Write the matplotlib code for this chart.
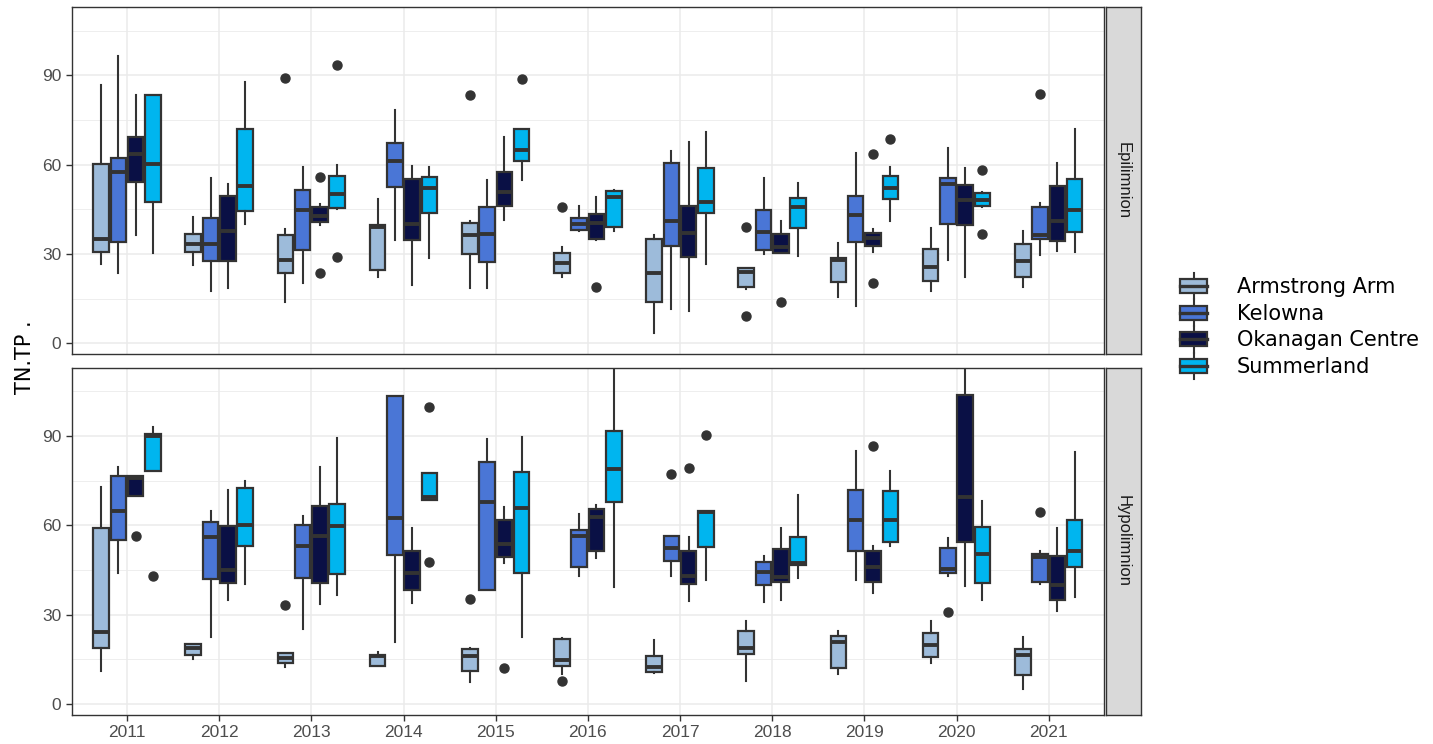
import matplotlib
matplotlib.use("Agg")
import matplotlib.pyplot as plt
from matplotlib.legend_handler import HandlerBase
from matplotlib.lines import Line2D
from matplotlib.patches import Rectangle, Patch
from matplotlib.ticker import FixedLocator

# ---- data ----
years = [2011, 2012, 2013, 2014, 2015, 2016, 2017, 2018, 2019, 2020, 2021]
sites = ["Armstrong Arm", "Kelowna", "Okanagan Centre", "Summerland"]
site_colors = ["#9DBBDA", "#4A76D6", "#0A1045", "#00B5EF"]
layers = ["Epilimnion", "Hypolimnion"]

# each row = one year, columns = sites in the order above
epi_whislo = [[26.5, 23.5, 36.2, 30.2], [26.3, 17.4, 18.5, 40.0], [13.7, 20.4, 39.7, 45.1],
              [22.4, 34.7, 19.6, 28.5], [18.5, 18.5, 41.4, 54.9], [22.1, 37.7, 34.7, 37.7],
              [3.6, 11.5, 11.0, 26.5], [18.1, 29.9, 30.2, 29.4], [15.7, 12.5, 30.8, 41.1],
              [17.4, 28.0, 22.1, 45.6], [18.8, 29.7, 31.0, 30.6]]
epi_q1 = [[30.6, 34.1, 54.3, 47.6], [30.6, 27.8, 27.8, 44.4], [23.5, 31.3, 40.6, 45.3],
          [24.6, 52.6, 34.7, 43.9], [29.9, 27.4, 46.2, 61.2], [23.5, 38.1, 35.0, 39.0],
          [13.7, 32.8, 28.9, 43.9], [19.0, 31.3, 30.4, 38.8], [20.5, 34.1, 32.8, 48.5],
          [21.0, 40.0, 39.7, 46.1], [22.1, 34.9, 34.5, 37.3]]
epi_med = [[35.0, 57.6, 63.5, 60.1], [33.2, 33.2, 37.7, 52.8], [28.0, 44.8, 42.8, 50.0],
           [39.2, 61.3, 40.0, 52.3], [36.4, 36.7, 50.9, 64.9], [27.1, 40.1, 40.3, 49.0],
           [23.5, 41.2, 37.2, 47.6], [24.1, 37.3, 32.2, 45.6], [28.0, 43.1, 35.3, 52.3],
           [25.5, 53.5, 48.1, 48.1], [27.6, 36.4, 40.9, 44.8]]
epi_q3 = [[60.1, 62.1, 69.3, 83.4], [36.8, 42.2, 49.3, 71.8], [36.4, 51.4, 45.7, 56.3],
          [39.7, 67.4, 55.2, 56.0], [40.3, 45.7, 57.4, 72.0], [30.2, 42.0, 43.5, 51.2],
          [34.9, 60.6, 46.1, 59.0], [25.2, 44.8, 36.7, 48.7], [28.5, 49.6, 36.9, 56.2],
          [31.6, 55.6, 53.2, 50.4], [33.2, 45.8, 52.8, 55.2]]
epi_whishi = [[86.8, 96.6, 83.4, 83.4], [42.5, 55.6, 53.4, 87.6], [38.4, 59.3, 46.7, 59.9],
              [48.5, 78.4, 59.6, 59.2], [40.9, 54.9, 69.2, 72.0], [32.4, 46.2, 49.0, 51.4],
              [36.4, 64.7, 67.5, 71.0], [25.4, 55.4, 40.9, 53.7], [33.8, 63.8, 38.4, 59.1],
              [38.8, 65.7, 58.8, 50.9], [37.7, 47.0, 60.4, 72.0]]
# (year, site index, value)
epi_outliers = [(2013, 0, 89.0), (2013, 2, 56.0), (2013, 2, 23.5), (2013, 3, 93.5),
                (2013, 3, 28.9), (2015, 0, 83.4), (2015, 3, 88.8), (2016, 0, 45.9),
                (2016, 2, 19.0), (2018, 0, 39.2), (2018, 0, 9.3), (2018, 2, 14.0),
                (2019, 2, 63.6), (2019, 2, 20.4), (2019, 3, 68.7), (2020, 3, 58.2),
                (2020, 3, 36.6), (2021, 1, 83.7)]

hypo_whislo = [[11.1, 43.9, 69.9, 78.2], [15.1, 22.6, 34.9, 40.2], [12.5, 25.1, 33.5, 36.6],
               [12.8, 20.7, 33.8, 68.5], [7.3, 38.1, 47.2, 22.6], [10.0, 42.8, 49.1, 39.4],
               [10.3, 43.0, 34.6, 41.6], [7.8, 34.4, 34.9, 42.2], [10.2, 41.6, 37.1, 53.1],
               [13.9, 42.8, 39.7, 34.9], [5.0, 40.3, 31.2, 36.0]]
hypo_q1 = [[18.9, 55.0, 69.9, 78.2], [16.5, 41.9, 40.7, 53.2], [13.7, 42.4, 40.5, 43.5],
           [12.8, 50.0, 38.3, 68.5], [11.2, 38.3, 49.5, 43.9], [12.9, 46.1, 51.4, 67.7],
           [10.6, 48.0, 40.2, 52.7], [16.9, 40.0, 40.9, 46.7], [12.0, 51.2, 40.9, 54.3],
           [15.7, 44.1, 54.5, 40.5], [9.7, 41.1, 34.9, 45.9]]
hypo_med = [[24.0, 64.9, 75.8, 90.0], [18.7, 55.9, 45.0, 60.1], [15.6, 53.1, 56.5, 59.9],
            [16.2, 62.3, 44.1, 69.6], [16.1, 67.9, 53.7, 65.7], [14.8, 56.5, 62.7, 78.9],
            [12.5, 52.3, 43.1, 64.6], [18.9, 44.4, 42.5, 47.2], [20.9, 61.8, 46.1, 61.8],
            [19.8, 45.2, 69.6, 50.3], [16.5, 49.3, 40.0, 51.2]]
hypo_q3 = [[59.0, 76.6, 76.6, 90.7], [20.0, 61.2, 59.9, 72.4], [17.0, 60.1, 66.6, 67.1],
           [16.5, 103.5, 51.4, 77.4], [18.5, 81.4, 61.8, 77.8], [21.8, 58.4, 65.4, 91.5],
           [16.1, 56.5, 51.2, 64.9], [24.6, 47.6, 52.1, 56.2], [22.8, 71.9, 51.5, 71.6],
           [23.7, 52.3, 103.8, 59.3], [18.4, 50.4, 49.8, 61.8]]
hypo_whishi = [[73.0, 79.7, 76.6, 93.1], [20.0, 64.9, 71.9, 74.7], [17.0, 63.2, 79.4, 89.2],
               [17.6, 103.5, 59.2, 77.4], [18.7, 89.0, 66.3, 89.8], [22.3, 63.8, 66.8, 113.0],
               [21.5, 56.5, 56.0, 64.9], [27.9, 49.8, 59.0, 70.2], [24.5, 85.1, 53.1, 78.2],
               [27.9, 55.6, 113.0, 68.3], [22.6, 51.5, 59.0, 84.7]]
hypo_outliers = [(2011, 2, 56.5), (2011, 3, 43.1), (2013, 0, 33.2), (2014, 3, 99.8),
                 (2014, 3, 47.8), (2015, 0, 35.3), (2015, 2, 12.2), (2016, 0, 7.7),
                 (2017, 1, 77.1), (2017, 2, 79.1), (2017, 3, 90.3), (2019, 2, 86.6),
                 (2020, 1, 31.0), (2021, 1, 64.4)]

EDGE = "#333333"
GRID = "#EBEBEB"


class BoxKey(HandlerBase):
    # ggplot-like boxplot legend key
    def create_artists(self, legend, orig_handle, xdescent, ydescent,
                       width, height, fontsize, trans):
        x0, y0 = -xdescent, -ydescent
        whisk = Line2D([x0 + width / 2] * 2, [y0, y0 + height], color=EDGE, lw=1.5,
                       transform=trans)
        box = Rectangle((x0, y0 + height * 0.24), width, height * 0.52,
                        facecolor=orig_handle.get_facecolor(), edgecolor=EDGE, lw=1.6,
                        transform=trans)
        med = Line2D([x0, x0 + width], [y0 + height / 2] * 2, color=EDGE, lw=2.4,
                     transform=trans)
        return [whisk, box, med]


def draw_panel(ax, whislo, q1, med, q3, whishi, outliers):
    step = 0.75 / len(sites)
    for j, col in enumerate(sites):
        stats = []
        pos = []
        for i, yr in enumerate(years):
            fl = [v for (y, s, v) in outliers if y == yr and s == j]
            stats.append(dict(whislo=whislo[i][j], q1=q1[i][j], med=med[i][j],
                              q3=q3[i][j], whishi=whishi[i][j], fliers=fl))
            pos.append(i + (j - 1.5) * step)
        ax.bxp(stats, positions=pos, widths=step * 0.9, patch_artist=True,
               showcaps=False, manage_ticks=False,
               boxprops=dict(facecolor=site_colors[j], edgecolor=EDGE, linewidth=1.6),
               whiskerprops=dict(color=EDGE, linewidth=1.5),
               medianprops=dict(color=EDGE, linewidth=2.8, solid_capstyle="butt"),
               flierprops=dict(marker="o", markerfacecolor=EDGE, markeredgecolor=EDGE,
                               markersize=6.5, linestyle="none"))

    ax.set_xlim(-0.6, len(years) - 0.4)
    ax.set_ylim(-3.6, 112.8)
    ax.set_yticks([0, 30, 60, 90])
    ax.yaxis.set_minor_locator(FixedLocator([15, 45, 75, 105]))
    ax.set_xticks(range(len(years)))
    ax.set_axisbelow(True)
    ax.grid(which="major", color=GRID, linewidth=1.1)
    ax.grid(which="minor", axis="y", color=GRID, linewidth=0.6)
    ax.tick_params(axis="y", which="minor", length=0)
    ax.tick_params(which="major", color=EDGE, length=4, width=1,
                   labelsize=12.5, labelcolor="#4D4D4D")
    for sp in ax.spines.values():
        sp.set_color(EDGE)
        sp.set_linewidth(1.0)


def main():
    plt.rcParams["font.family"] = ["Liberation Sans", "DejaVu Sans"]
    W, H = 1433, 744
    fig = plt.figure(figsize=(W / 100, H / 100), dpi=100)

    px_left, px_right = 71.7, 1104
    panels = [(7.4, 354.0), (368.0, 714.7)]
    data = [(epi_whislo, epi_q1, epi_med, epi_q3, epi_whishi, epi_outliers),
            (hypo_whislo, hypo_q1, hypo_med, hypo_q3, hypo_whishi, hypo_outliers)]

    for k, (top, bot) in enumerate(panels):
        ax = fig.add_axes([px_left / W, 1 - bot / H, (px_right - px_left) / W, (bot - top) / H])
        draw_panel(ax, *data[k])
        if k == 0:
            ax.tick_params(axis="x", length=0, labelbottom=False)
        else:
            ax.set_xticklabels([str(y) for y in years])

        # facet strip on the right
        sax = fig.add_axes([1106 / W, 1 - bot / H, 35 / W, (bot - top) / H])
        sax.set_facecolor("#D9D9D9")
        sax.set_xticks([])
        sax.set_yticks([])
        for sp in sax.spines.values():
            sp.set_color(EDGE)
            sp.set_linewidth(1.0)
        sax.text(0.5, 0.5, layers[k], rotation=-90, ha="center", va="center",
                 fontsize=12, color="#1A1A1A", transform=sax.transAxes)

    fig.text(25 / W, 1 - 357 / H, "TN.TP .", rotation=90, ha="center", va="center",
             fontsize=15, family="DejaVu Sans")

    handles = [Patch(facecolor=c) for c in site_colors]
    fig.legend(handles, sites, loc="center left", bbox_to_anchor=(1180 / W, 1 - 326 / H),
               frameon=False, prop=dict(family="DejaVu Sans", size=15),
               handler_map={Patch: BoxKey()}, handlelength=1.3, handleheight=1.59,
               labelspacing=0, handletextpad=1.44, borderpad=0, borderaxespad=0)

    fig.savefig("out.png", dpi=100)


if __name__ == "__main__":
    main()
